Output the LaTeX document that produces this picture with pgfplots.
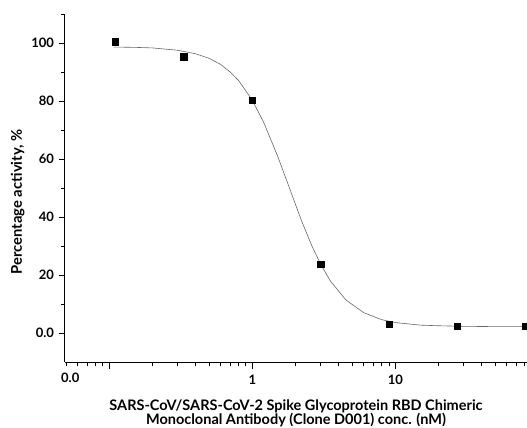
\documentclass[border=0pt]{standalone}
\usepackage{fontspec}
\setmainfont{Lato}
\usepackage{pgfplots}
\pgfplotsset{compat=1.18}
\begin{document}
\begin{tikzpicture}
\useasboundingbox (0,0) rectangle (527pt,428pt);
\begin{axis}[
    at={(65pt,66pt)}, anchor=south west,
    scale only axis, width=462pt, height=348pt,
    xmode=log, xmin=0.049, xmax=83,
    ymin=-10, ymax=110,
    clip=false,
    axis lines=left,
    axis line style={line width=1pt, -},
    tick align=outside,
    major tick length=6.5pt, minor tick length=4pt,
    tick style={black, line width=0.8pt},
    % long decade ticks
    xtick={0.1,1,10}, xticklabels={,1,10},
    % short ticks below 0.1 (first one carries the 0.0 label)
    extra x ticks={0.05,0.06,0.07,0.08,0.09},
    extra x tick labels={\hspace*{8pt}0.0},
    extra x tick style={major tick length=4pt},
    ytick={0,20,40,60,80,100}, yticklabels={0.0,20,40,60,80,100},
    minor ytick={10,30,50,70,90,110},
    tick label style={font=\bfseries\fontsize{13}{15}\selectfont},
    xticklabel style={yshift=-3pt},
    yticklabel style={xshift=-1pt},
    xlabel={SARS-CoV/SARS-CoV-2 Spike Glycoprotein RBD Chimeric\\Monoclonal Antibody (Clone D001) conc. (nM)},
    xlabel style={align=center, font=\bfseries\fontsize{14.5}{14}\selectfont, yshift=2pt},
    ylabel={Percentage activity, \%},
    ylabel style={font=\bfseries\fontsize{14.8}{15}\selectfont, at={(ticklabel cs:0.46)}},
]
% short log ticks above 0.1
\addplot[only marks, mark=|, mark size=2pt, color=black,
    mark options={yshift=-2pt, line width=0.8pt}] coordinates {
    (0.2,-10)(0.3,-10)(0.4,-10)(0.5,-10)(0.6,-10)(0.7,-10)(0.8,-10)(0.9,-10)
    (2,-10)(3,-10)(4,-10)(5,-10)(6,-10)(7,-10)(8,-10)(9,-10)
    (20,-10)(30,-10)(40,-10)(50,-10)(60,-10)(70,-10)(80,-10)
};
% fitted curve
\addplot[color=black!60, line width=0.6pt] coordinates {
    (0.107,98.6)(0.15,98.5)(0.2,98.3)(0.3,97.5)(0.4,96.3)(0.5,94.7)
    (0.6,92.6)(0.7,90.0)(0.8,87.1)(1.0,80.2)(1.2,72.6)(1.5,61.0)
    (1.8,50.5)(2.2,38.8)(2.6,30.1)(3.0,23.7)(3.5,18.0)(4.5,11.4)
    (6,7.0)(8,4.6)(10,3.6)(15,2.7)(20,2.5)(30,2.3)(50,2.2)(81,2.2)
};
% measured points
\addplot[only marks, mark=square*, mark size=3.2pt, color=black] coordinates {
    (0.11,100.5)(0.33,95.3)(1,80.2)(3,23.7)(9,3.0)(27,2.3)(81,2.3)
};
\end{axis}
\end{tikzpicture}
\end{document}
